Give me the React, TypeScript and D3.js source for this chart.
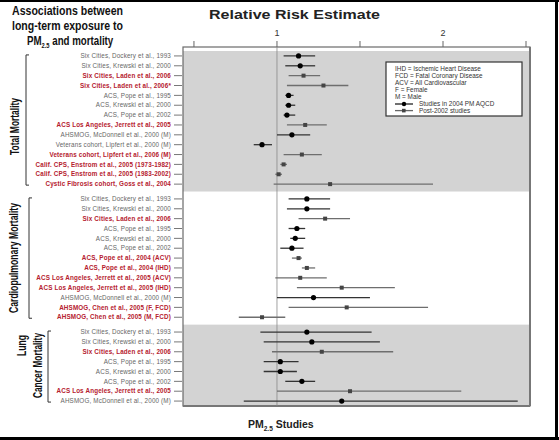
import React from "react";
import * as d3 from "d3";

type Row = { label: string; rr: number; lo: number; hi: number; post: boolean };

const totalLabels = [
  "Six Cities, Dockery et al., 1993",
  "Six Cities, Krewski et al., 2000",
  "Six Cities, Laden et al., 2006",
  "Six Cities, Laden et al., 2006*",
  "ACS, Pope et al., 1995",
  "ACS, Krewski et al., 2000",
  "ACS, Pope et al., 2002",
  "ACS Los Angeles, Jerrett et al., 2005",
  "AHSMOG, McDonnell et al., 2000 (M)",
  "Veterans cohort, Lipfert et al., 2000 (M)",
  "Veterans cohort, Lipfert et al., 2006 (M)",
  "Calif. CPS, Enstrom et al., 2005 (1973-1982)",
  "Calif. CPS, Enstrom et al., 2005 (1983-2002)",
  "Cystic Fibrosis cohort, Goss et al., 2004",
];
const totalRR = [1.13, 1.14, 1.16, 1.28, 1.07, 1.07, 1.06, 1.17, 1.09, 0.91, 1.15, 1.04, 1.01, 1.32];
const totalLo = [1.04, 1.05, 1.07, 1.06, 1.05, 1.05, 1.04, 1.06, 1.0, 0.86, 1.04, 1.02, 0.99, 0.98];
const totalHi = [1.23, 1.23, 1.26, 1.43, 1.1, 1.11, 1.11, 1.3, 1.2, 0.97, 1.27, 1.06, 1.03, 1.94];
const totalPost = [false, false, true, true, false, false, false, true, false, false, true, true, true, true];

const cardioLabels = [
  "Six Cities, Dockery et al., 1993",
  "Six Cities, Krewski et al., 2000",
  "Six Cities, Laden et al., 2006",
  "ACS, Pope et al., 1995",
  "ACS, Krewski et al., 2000",
  "ACS, Pope et al., 2002",
  "ACS, Pope et al., 2004 (ACV)",
  "ACS, Pope et al., 2004 (IHD)",
  "ACS Los Angeles, Jerrett et al., 2005 (ACV)",
  "ACS Los Angeles, Jerrett et al., 2005 (IHD)",
  "AHSMOG, McDonnell et al., 2000 (M)",
  "AHSMOG, Chen et al., 2005 (F, FCD)",
  "AHSMOG, Chen et al., 2005 (M, FCD)",
];
const cardioRR = [1.18, 1.18, 1.29, 1.12, 1.11, 1.09, 1.13, 1.18, 1.14, 1.39, 1.22, 1.42, 0.91];
const cardioLo = [1.07, 1.06, 1.13, 1.07, 1.08, 1.02, 1.09, 1.15, 0.99, 1.12, 1.0, 1.07, 0.77];
const cardioHi = [1.32, 1.32, 1.44, 1.17, 1.17, 1.16, 1.15, 1.23, 1.3, 1.71, 1.56, 1.91, 1.05];
const cardioPost = [false, false, true, false, false, false, true, true, true, true, false, true, true];

const lungLabels = [
  "Six Cities, Dockery et al., 1993",
  "Six Cities, Krewski et al., 2000",
  "Six Cities, Laden et al., 2006",
  "ACS, Pope et al., 1995",
  "ACS, Krewski et al., 2000",
  "ACS, Pope et al., 2002",
  "ACS Los Angeles, Jerrett et al., 2005",
  "AHSMOG, McDonnell et al., 2000 (M)",
];
const lungRR = [1.18, 1.21, 1.27, 1.02, 1.02, 1.15, 1.44, 1.39];
const lungLo = [0.9, 0.92, 0.97, 0.92, 0.92, 1.05, 1.0, 0.8];
const lungHi = [1.57, 1.62, 1.7, 1.13, 1.12, 1.23, 2.11, 2.45];
const lungPost = [false, false, true, false, false, false, true, false];

const xTicks = [0.5, 1, 1.5, 2, 2.5];
const xTickLabels = ["", "1", "", "2", ""];

const legendLines = [
  "IHD = Ischemic Heart Disease",
  "FCD = Fatal Coronary Disease",
  "ACV = All Cardiovascular",
  "F = Female",
  "M = Male",
];
const legendMarks = ["Studies in 2004 PM AQCD", "Post-2002 studies"];

const mk = (l: string[], r: number[], lo: number[], hi: number[], p: boolean[]): Row[] =>
  l.map((label, i) => ({ label, rr: r[i], lo: lo[i], hi: hi[i], post: p[i] }));

const groups = [
  { rows: mk(totalLabels, totalRR, totalLo, totalHi, totalPost), start: 0, shaded: true },
  { rows: mk(cardioLabels, cardioRR, cardioLo, cardioHi, cardioPost), start: 14.5, shaded: false },
  { rows: mk(lungLabels, lungRR, lungLo, lungHi, lungPost), start: 28, shaded: true },
];

const RED = "#b5202e";
const FONT = "'Liberation Sans', Arial, sans-serif";

export default function App() {
  const left = 183,
    right = 530,
    top = 47,
    bottom = 406;
  const x = d3.scaleLinear().domain([0.434, 2.524]).range([left, right]);
  const y = d3.scaleLinear().domain([-0.5, 35.5]).range([51, bottom]);

  const bandTop = [y(-0.5), 0, y(27.25)];
  const bandBot = [y(13.75), 0, bottom];

  return (
    <svg width={559} height={440} style={{ position: "absolute", left: 0, top: 0 }}>
      <rect x={0} y={0} width={559} height={440} fill="#fff" />
      <line x1={0} x2={559} y1={1} y2={1} stroke="#000" strokeWidth={2} />
      <line x1={556.5} x2={556.5} y1={0} y2={440} stroke="#000" strokeWidth={3} />
      <line x1={0} x2={559} y1={438.5} y2={438.5} stroke="#000" strokeWidth={3} />

      {/* heading */}
      <g fontFamily={FONT} fontWeight="bold" fontSize={13.5} fill="#111">
        <text x={12} y={15} textLength={111} lengthAdjust="spacingAndGlyphs">Associations between</text>
        <text x={12} y={30} textLength={111} lengthAdjust="spacingAndGlyphs">long-term exposure to</text>
        <g transform="translate(27,45) scale(0.72,1)">
          <text x={0} y={0}>
            PM<tspan fontSize={8} dy={3}>2.5</tspan>
            <tspan dy={-3}> and mortality</tspan>
          </text>
        </g>
      </g>
      <text x={209} y={19} textLength={171} lengthAdjust="spacingAndGlyphs" fontFamily={FONT} fontWeight="bold" fontSize={13.5} fill="#222">
        Relative Risk Estimate
      </text>

      {/* bands */}
      {groups.map((g, gi) =>
        g.shaded ? (
          <rect key={"band" + gi} x={left} width={right - left} y={bandTop[gi]} height={bandBot[gi] - bandTop[gi]} fill="#d3d3d3" />
        ) : null
      )}
      <rect x={left} y={top} width={right - left} height={bottom - top} fill="none" stroke="#6a6a6a" strokeWidth={1.2} />
      <line x1={right} x2={right} y1={top} y2={bottom} stroke="#777" strokeWidth={2} />
      <line x1={left} x2={right} y1={bottom} y2={bottom} stroke="#777" strokeWidth={2} />

      {/* top axis */}
      {xTicks.map((t, i) => (
        <g key={"xt" + i}>
          <line x1={x(t)} x2={x(t)} y1={top - 6} y2={top} stroke="#666" strokeWidth={1} />
          <text x={x(t)} y={36} textAnchor="middle" fontFamily={FONT} fontSize={9} fill="#333">
            {xTickLabels[i]}
          </text>
        </g>
      ))}
      <line x1={x(1)} x2={x(1)} y1={top} y2={bottom} stroke="#888" strokeWidth={0.8} />

      {/* rows */}
      {groups.map((g, gi) =>
        g.rows.map((r, i) => {
          const yy = y(g.start + i);
          return (
            <g key={gi + "-" + i}>
              <line x1={174} x2={182} y1={yy} y2={yy} stroke="#555" strokeWidth={0.8} />
              <text
                x={171}
                y={yy + 2.2}
                textAnchor="end"
                fontFamily={FONT}
                fontSize={6.3}
                letterSpacing={0.15}
                fontWeight={r.post ? "bold" : "normal"}
                fill={r.post ? RED : "#666"}
              >
                {r.label}
              </text>
              <line x1={x(r.lo)} x2={x(r.hi)} y1={yy} y2={yy} stroke={r.post ? "#6e6e6e" : "#333"} strokeWidth={1.3} />
              {r.post ? (
                <rect x={x(r.rr) - 2} y={yy - 2} width={4} height={4} fill="#444" />
              ) : (
                <circle cx={x(r.rr)} cy={yy} r={2.6} fill="#000" />
              )}
            </g>
          );
        })
      )}

      {/* group labels */}
      <g fontFamily={FONT} fontWeight="bold" fontSize={12} fill="#111">
        <text transform="translate(19,155) rotate(-90)" textLength={57} lengthAdjust="spacingAndGlyphs">Total Mortality</text>
        <text transform="translate(18,313) rotate(-90)" textLength={110} lengthAdjust="spacingAndGlyphs">Cardiopulmonary Mortality</text>
        <text transform="translate(26,356) rotate(-90)" textLength={21} lengthAdjust="spacingAndGlyphs">Lung</text>
        <text transform="translate(42,398) rotate(-90)" textLength={65} lengthAdjust="spacingAndGlyphs">Cancer Mortality</text>
      </g>
      {[
        { bx: 26, a: 0, b: 13 },
        { bx: 29, a: 14.5, b: 26.5 },
        { bx: 48, a: 28, b: 35 },
      ].map((br, i) => (
        <path
          key={"br" + i}
          d={`M${br.bx + 3},${y(br.a) - 1}H${br.bx}V${y(br.b) + 1}H${br.bx + 3}`}
          fill="none"
          stroke="#333"
          strokeWidth={1}
        />
      ))}

      {/* legend */}
      <rect x={386} y={62} width={136} height={54} fill="#fff" stroke="#333" strokeWidth={1.2} />
      <g fontFamily={FONT} fontSize={6.4} fill="#333">
        {legendLines.map((t, i) => (
          <text key={"lg" + i} x={395} y={70.6 + i * 7}>
            {t}
          </text>
        ))}
        {legendMarks.map((t, i) => {
          const ly = 104 + i * 6.6;
          return (
            <g key={"lm" + i}>
              <line x1={395} x2={413} y1={ly} y2={ly} stroke={i === 0 ? "#222" : "#666"} strokeWidth={1.3} />
              {i === 0 ? <circle cx={404} cy={ly} r={2.2} fill="#000" /> : <rect x={402} y={ly - 1.8} width={3.6} height={3.6} fill="#444" />}
              <text x={419} y={ly + 2.2}>{t}</text>
            </g>
          );
        })}
      </g>

      {/* bottom label */}
      <text x={248} y={428} fontFamily={FONT} fontWeight="bold" fontSize={10.5} fill="#222">
        PM<tspan fontSize={6.5} dy={2.5}>2.5</tspan>
        <tspan dy={-2.5}> Studies</tspan>
      </text>
    </svg>
  );
}
